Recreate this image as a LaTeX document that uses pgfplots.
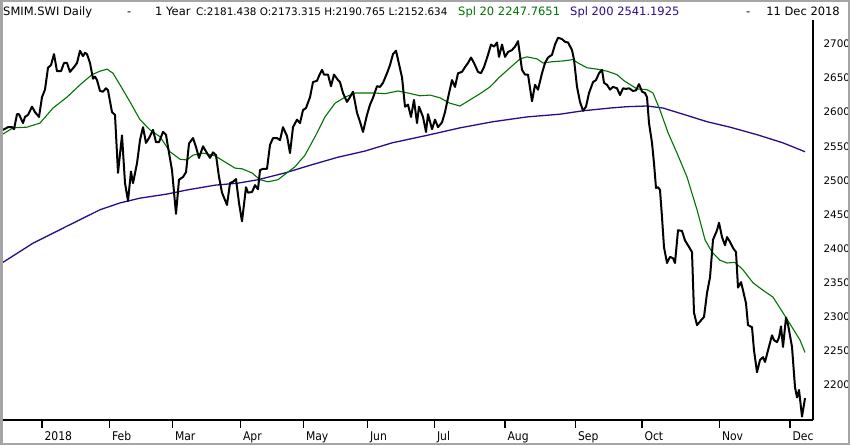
\documentclass[border=0pt]{standalone}
\usepackage{fontspec}
\setmainfont{DejaVu Sans}
\newfontfamily\condfont{DejaVu Sans Condensed}
\usepackage{pgfplots}
\pgfplotsset{compat=1.18}
\usepackage{pgfplotstable}
\definecolor{smagreen}{RGB}{0,115,0}
\definecolor{smablue}{RGB}{45,10,140}
\definecolor{frame}{RGB}{165,165,165}

% x = position in the year (trading-day scale), y = index value
\pgfplotstableread{
x y
3 2574
8 2578
12 2578
14 2575
17 2597
19 2597
23 2584
25 2593
28 2596
32 2608
35 2600
39 2593
42 2622
45 2633
48 2665
51 2669
54 2685
57 2660
61 2660
64 2672
67 2672
70 2659
74 2666
77 2672
80 2690
83 2682
85 2687
87 2685
90 2672
93 2649
95 2652
97 2647
100 2631
103 2630
106 2635
108 2632
112 2600
115 2596
118 2511
122 2566
125 2496
128 2470
131 2513
133 2496
137 2525
140 2559
143 2578
146 2555
149 2562
153 2574
156 2556
159 2556
163 2571
166 2567
168 2549
172 2515
176 2451
179 2501
183 2505
186 2512
189 2554
193 2562
196 2549
199 2533
203 2550
207 2540
210 2533
213 2541
216 2537
219 2505
222 2482
227 2464
230 2496
233 2498
236 2502
239 2467
242 2440
246 2490
248 2482
252 2483
255 2493
258 2487
260 2515
263 2517
267 2517
270 2552
273 2562
277 2562
280 2559
283 2578
287 2565
290 2540
293 2578
297 2589
300 2584
303 2603
306 2606
310 2622
313 2644
317 2646
319 2653
322 2662
324 2655
328 2655
331 2638
334 2655
338 2647
340 2644
343 2628
347 2615
350 2622
353 2630
357 2599
360 2586
363 2571
367 2596
370 2611
373 2621
377 2638
380 2637
383 2643
387 2657
390 2669
393 2685
396 2690
398 2677
402 2651
405 2608
408 2611
411 2593
414 2618
417 2584
419 2608
423 2593
426 2571
428 2597
432 2575
435 2589
438 2578
442 2585
445 2600
448 2621
452 2647
455 2637
458 2657
462 2659
465 2666
468 2672
471 2680
474 2672
478 2659
481 2657
484 2666
488 2684
491 2699
494 2696
497 2702
499 2681
502 2699
505 2681
508 2688
512 2691
515 2696
518 2704
522 2662
525 2655
528 2655
532 2616
535 2640
538 2633
542 2657
545 2672
548 2680
552 2684
555 2699
558 2709
562 2707
565 2703
568 2702
572 2691
574 2677
577 2637
580 2615
583 2602
586 2608
589 2628
593 2644
596 2647
599 2657
602 2662
604 2643
607 2640
610 2633
613 2637
617 2635
620 2625
623 2635
626 2634
629 2635
633 2631
636 2632
639 2641
642 2630
645 2628
647 2622
649 2584
652 2555
654 2525
656 2489
658 2490
660 2486
662 2446
664 2402
667 2379
670 2388
673 2386
675 2379
678 2427
682 2426
685 2412
688 2405
692 2395
694 2306
697 2288
701 2295
704 2300
707 2335
710 2358
713 2413
717 2427
719 2438
722 2417
725 2405
727 2417
730 2410
733 2401
736 2395
738 2343
741 2351
743 2339
746 2320
748 2288
752 2285
754 2251
757 2219
760 2237
763 2241
765 2234
768 2251
772 2273
774 2266
777 2263
779 2270
781 2286
783 2256
786 2299
788 2289
792 2256
795 2197
797 2182
799 2193
802 2154
805 2181
}\closedata

\pgfplotstableread{
x y
3 2568
13 2577
27 2578
40 2584
53 2606
67 2622
80 2640
92 2655
100 2660
107 2663
113 2657
120 2640
130 2615
140 2589
150 2574
160 2564
170 2542
180 2531
187 2530
193 2537
203 2540
215 2536
225 2527
235 2518
242 2517
252 2511
260 2501
268 2498
278 2501
285 2509
295 2520
305 2537
315 2564
325 2593
335 2613
345 2622
355 2628
365 2628
375 2628
385 2627
398 2631
408 2628
420 2624
430 2625
440 2621
450 2613
460 2609
470 2618
480 2627
490 2637
500 2652
510 2665
520 2678
527 2681
537 2678
543 2672
553 2674
563 2675
573 2677
578 2672
587 2665
597 2663
607 2660
617 2655
624 2646
637 2634
647 2633
653 2628
660 2603
668 2570
677 2540
687 2505
697 2457
705 2413
712 2395
720 2383
727 2379
735 2380
743 2369
753 2350
763 2339
773 2329
783 2306
792 2285
800 2266
805 2248
}\smatwenty

\pgfplotstableread{
x y
3 2380
33 2408
67 2433
100 2457
120 2467
140 2474
167 2480
187 2486
215 2493
238 2496
258 2501
285 2511
312 2523
338 2534
365 2543
392 2555
427 2566
460 2577
493 2586
527 2593
560 2597
583 2602
610 2606
627 2608
647 2609
663 2606
683 2597
707 2586
730 2578
757 2567
783 2555
805 2542
}\smatwohundred

\begin{document}
\begin{tikzpicture}
\useasboundingbox (0,0) rectangle (850pt,445pt);
\fill[white] (0,0) rectangle (850pt,445pt);
\begin{axis}[
  at={(3pt,25pt)}, anchor=south west,
  scale only axis, width=810pt, height=400pt,
  xmin=3, xmax=813, ymin=2149, ymax=2735,
  axis x line*=bottom, axis y line*=right,
  axis line style={line width=2.2pt,-},
  xtick={42,109.5,172.5,240.5,303.5,367.5,434.5,505,575.5,642,719.5,790},
  xticklabels={2018,Feb,Mar,Apr,May,Jun,Jul,Aug,Sep,Oct,Nov,Dec},
  tick align=outside,
  major tick length=8pt,
  xtick style={line width=1.4pt, black},
  ytick={2200,2250,...,2700},
  ytick style={draw=none},
  xticklabel style={font=\condfont\fontsize{12}{14}\selectfont, anchor=north west, xshift=-1pt},
  yticklabel style={font=\fontsize{10.4}{12}\selectfont, anchor=west, xshift=-1pt},
  /pgf/number format/1000 sep={},
  /pgf/number format/assume math mode=true,
  clip=false,
]
\addplot[smablue, line width=1.3pt] table {\smatwohundred};
\addplot[smagreen, line width=1.1pt] table {\smatwenty};
\addplot[black, line width=2pt, line join=round] table {\closedata};
\end{axis}
\begin{scope}[every node/.style={inner sep=0pt, anchor=base west, font=\fontsize{11.5}{14}\selectfont}]
\node at (3pt,429pt) {SMIM.SWI Daily};
\node at (127pt,429pt) {-};
\node at (155pt,429pt) {1 Year};
\node[font=\fontsize{10.4}{12}\selectfont] at (196pt,429pt) {C:2181.438 O:2173.315 H:2190.765 L:2152.634};
\node[text=smagreen] at (458pt,429pt) {Spl 20 2247.7651};
\node[text=smablue] at (570pt,429pt) {Spl 200 2541.1925};
\node at (746pt,429pt) {-};
\node[anchor=base east] at (840pt,429pt) {11 Dec 2018};
\end{scope}
\draw[frame, line width=2.5pt] (1.25pt,1.25pt) rectangle (848.75pt,443.75pt);
\end{tikzpicture}
\end{document}
